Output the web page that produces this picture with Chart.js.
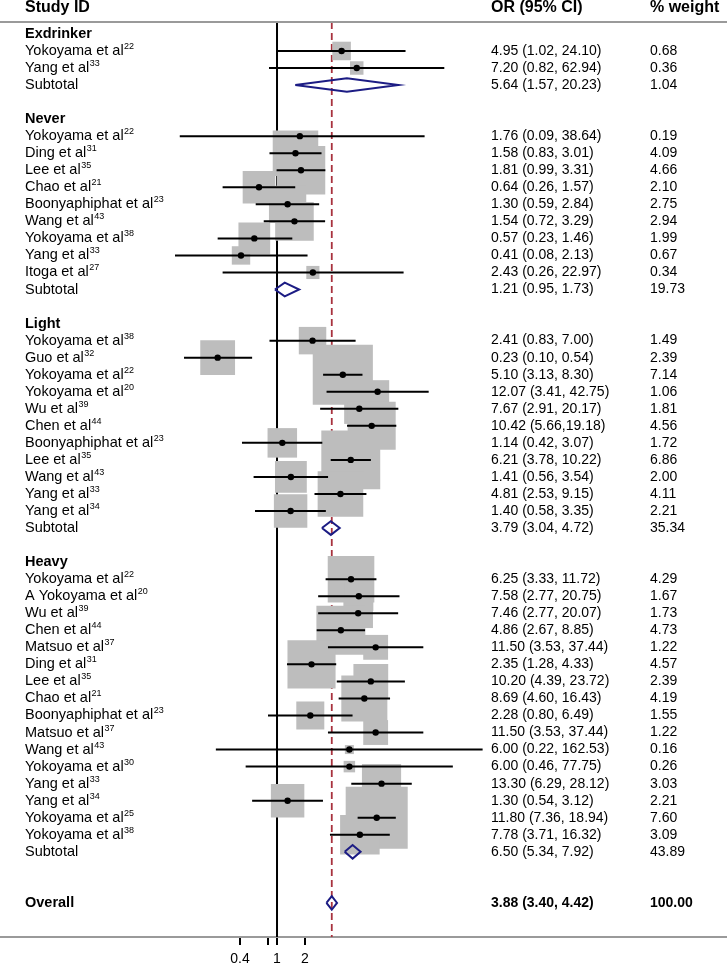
<!DOCTYPE html>
<html>
<head>
<meta charset="utf-8">
<script src="https://cdn.jsdelivr.net/npm/chart.js@4.4.1/dist/chart.umd.min.js"></script>
<style>
  html, body { margin: 0; padding: 0; background: #fff; }
  canvas { display: block; }
</style>
</head>
<body>
<canvas id="forestChart" width="727" height="966"></canvas>
<script>
// 飲酒状況別オッズ比のフォレストプロット

// サブグループ
const groupNames = ['Exdrinker', 'Never', 'Light', 'Heavy'];

// 各研究のグループ番号
const studyGroup = [
    0, 0,
    1, 1, 1, 1, 1, 1, 1, 1, 1,
    2, 2, 2, 2, 2, 2, 2, 2, 2, 2, 2,
    3, 3, 3, 3, 3, 3, 3, 3, 3, 3, 3, 3, 3, 3, 3, 3
];

// 著者名
const studyAuthors = [
    'Yokoyama et al', 'Yang et al',
    'Yokoyama et al', 'Ding et al', 'Lee et al', 'Chao et al', 'Boonyaphiphat et al',
    'Wang et al', 'Yokoyama et al', 'Yang et al', 'Itoga et al',
    'Yokoyama et al', 'Guo et al', 'Yokoyama et al', 'Yokoyama et al', 'Wu et al', 'Chen et al',
    'Boonyaphiphat et al', 'Lee et al', 'Wang et al', 'Yang et al', 'Yang et al',
    'Yokoyama et al', 'A Yokoyama et al', 'Wu et al', 'Chen et al', 'Matsuo et al', 'Ding et al',
    'Lee et al', 'Chao et al', 'Boonyaphiphat et al', 'Matsuo et al', 'Wang et al',
    'Yokoyama et al', 'Yang et al', 'Yang et al', 'Yokoyama et al', 'Yokoyama et al'
];

// 文献番号（上付き）
const studyRefs = [
    '22', '33',
    '22', '31', '35', '21', '23', '43', '38', '33', '27',
    '38', '32', '22', '20', '39', '44', '23', '35', '43', '33', '34',
    '22', '20', '39', '44', '37', '31', '35', '21', '23', '37', '43', '30', '33', '34', '25', '38'
];

// オッズ比と95%信頼区間
const orValues = [
    4.95, 7.20,
    1.76, 1.58, 1.81, 0.64, 1.30, 1.54, 0.57, 0.41, 2.43,
    2.41, 0.23, 5.10, 12.07, 7.67, 10.42, 1.14, 6.21, 1.41, 4.81, 1.40,
    6.25, 7.58, 7.46, 4.86, 11.50, 2.35, 10.20, 8.69, 2.28, 11.50, 6.00, 6.00, 13.30, 1.30, 11.80, 7.78
];
const ciLower = [
    1.02, 0.82,
    0.09, 0.83, 0.99, 0.26, 0.59, 0.72, 0.23, 0.08, 0.26,
    0.83, 0.10, 3.13, 3.41, 2.91, 5.66, 0.42, 3.78, 0.56, 2.53, 0.58,
    3.33, 2.77, 2.77, 2.67, 3.53, 1.28, 4.39, 4.60, 0.80, 3.53, 0.22, 0.46, 6.29, 0.54, 7.36, 3.71
];
const ciUpper = [
    24.10, 62.94,
    38.64, 3.01, 3.31, 1.57, 2.84, 3.29, 1.46, 2.13, 22.97,
    7.00, 0.54, 8.30, 42.75, 20.17, 19.18, 3.07, 10.22, 3.54, 9.15, 3.35,
    11.72, 20.75, 20.07, 8.85, 37.44, 4.33, 23.72, 16.43, 6.49, 37.44, 162.53, 77.75, 28.12, 3.12, 18.94, 16.32
];

// 重み（%）
const weights = [
    0.68, 0.36,
    0.19, 4.09, 4.66, 2.10, 2.75, 2.94, 1.99, 0.67, 0.34,
    1.49, 2.39, 7.14, 1.06, 1.81, 4.56, 1.72, 6.86, 2.00, 4.11, 2.21,
    4.29, 1.67, 1.73, 4.73, 1.22, 4.57, 2.39, 4.19, 1.55, 1.22, 0.16, 0.26, 3.03, 2.21, 7.60, 3.09
];

// 信頼区間の表記でカンマ後の空白がない研究
const compactCiStudies = [16];

// サブトータル
const subOr = [5.64, 1.21, 3.79, 6.50];
const subLower = [1.57, 0.95, 3.04, 5.34];
const subUpper = [20.23, 1.73, 4.72, 7.92];
const subWeight = [1.04, 19.73, 35.34, 43.89];

// 全体
const overallOr = 3.88;
const overallLower = 3.40;
const overallUpper = 4.42;
const overallWeight = 100.00;

// X軸の目盛
const axisTicks = [0.4, 0.8, 1, 2];
const axisLabels = ['0.4', '', '1', '2'];

// 表示設定
const FONT = '"Liberation Sans", Arial, sans-serif';
const LABEL_X = 25;
const CI_X = 491;
const WEIGHT_X = 650;
const BOX_SCALE = 22.5;
const DIAMOND_HALF = 0.4;
const X_MIN = 0.00105;
const X_MAX = 69000;

// 行番号の割り当て
const studyRow = [];
const subRow = [];
const groupRow = [];
let rowCursor = 0;
groupNames.forEach((name, gi) => {
    groupRow[gi] = rowCursor++;
    studyGroup.forEach((g, si) => {
        if (g === gi) studyRow[si] = rowCursor++;
    });
    subRow[gi] = rowCursor;
    rowCursor += 2;
});
const overallRow = rowCursor + 1;
const Y_MIN = -0.7;
const Y_MAX = overallRow + 2;

// 信頼区間の線（null で区切る）
const ciLineData = [];
orValues.forEach((v, i) => {
    ciLineData.push({ x: ciLower[i], y: studyRow[i] });
    ciLineData.push({ x: ciUpper[i], y: studyRow[i] });
    ciLineData.push({ x: null, y: null });
});

// ひし形（サブトータルと全体）
const diamondData = [];
function addDiamond(est, lo, hi, row) {
    diamondData.push({ x: lo, y: row });
    diamondData.push({ x: est, y: row - DIAMOND_HALF });
    diamondData.push({ x: hi, y: row });
    diamondData.push({ x: est, y: row + DIAMOND_HALF });
    diamondData.push({ x: lo, y: row });
    diamondData.push({ x: null, y: null });
}
subOr.forEach((v, gi) => addDiamond(v, subLower[gi], subUpper[gi], subRow[gi]));
addDiamond(overallOr, overallLower, overallUpper, overallRow);

const pointData = orValues.map((v, i) => ({ x: v, y: studyRow[i] }));

function fmt(v) {
    return v.toFixed(2);
}
function ciText(est, lo, hi, compact) {
    return fmt(est) + ' (' + fmt(lo) + (compact ? ',' : ', ') + fmt(hi) + ')';
}

// 文字列描画プラグイン
const forestTextPlugin = {
    id: 'forestText',
    afterDraw(chart) {
        const ctx = chart.ctx;
        const yScale = chart.scales.y;
        const area = chart.chartArea;
        ctx.save();

        // ヘッダー下の線
        ctx.strokeStyle = '#9a9a9a';
        ctx.lineWidth = 2;
        ctx.beginPath();
        ctx.moveTo(0, area.top);
        ctx.lineTo(chart.width, area.top);
        ctx.stroke();

        ctx.fillStyle = '#000';
        ctx.textBaseline = 'middle';
        ctx.textAlign = 'left';

        // ヘッダー
        ctx.font = 'bold 16px ' + FONT;
        ctx.fillText('Study ID', LABEL_X, 7.5);
        ctx.fillText('OR (95% CI)', CI_X, 7.5);
        ctx.fillText('% weight', WEIGHT_X, 7.5);

        // グループ名
        ctx.font = 'bold 14.5px ' + FONT;
        groupNames.forEach((name, gi) => {
            ctx.fillText(name, LABEL_X, yScale.getPixelForValue(groupRow[gi]));
        });

        // 各研究
        studyAuthors.forEach((name, i) => {
            const y = yScale.getPixelForValue(studyRow[i]);
            ctx.font = '14.5px ' + FONT;
            ctx.fillText(name, LABEL_X, y);
            const w = ctx.measureText(name).width;
            ctx.font = '14px ' + FONT;
            ctx.fillText(ciText(orValues[i], ciLower[i], ciUpper[i], compactCiStudies.includes(i)), CI_X, y);
            ctx.fillText(fmt(weights[i]), WEIGHT_X, y);
            ctx.font = '9px ' + FONT;
            ctx.fillText(studyRefs[i], LABEL_X + w + 0.5, y - 4.5);
        });

        // サブトータル
        subOr.forEach((v, gi) => {
            const y = yScale.getPixelForValue(subRow[gi]);
            ctx.font = '14.5px ' + FONT;
            ctx.fillText('Subtotal', LABEL_X, y);
            ctx.font = '14px ' + FONT;
            ctx.fillText(ciText(v, subLower[gi], subUpper[gi], false), CI_X, y);
            ctx.fillText(fmt(subWeight[gi]), WEIGHT_X, y);
        });

        // 全体
        const oy = yScale.getPixelForValue(overallRow);
        ctx.font = 'bold 14.5px ' + FONT;
        ctx.fillText('Overall', LABEL_X, oy);
        ctx.font = 'bold 14px ' + FONT;
        ctx.fillText(ciText(overallOr, overallLower, overallUpper, false), CI_X, oy);
        ctx.fillText(fmt(overallWeight), WEIGHT_X, oy);

        ctx.restore();
    }
};

const ctx = document.getElementById('forestChart').getContext('2d');
new Chart(ctx, {
    type: 'scatter',
    data: {
        datasets: [
            {
                // 点推定値
                data: pointData,
                pointRadius: 3.2,
                pointBackgroundColor: '#000',
                pointBorderWidth: 0,
                order: 0
            },
            {
                // 信頼区間
                data: ciLineData,
                showLine: true,
                spanGaps: false,
                borderColor: '#000',
                borderWidth: 2,
                pointRadius: 0,
                order: 1
            },
            {
                // ひし形
                data: diamondData,
                showLine: true,
                spanGaps: false,
                borderColor: '#1c1c84',
                borderWidth: 2,
                pointRadius: 0,
                order: 1
            },
            {
                // 重みに比例した四角
                data: pointData,
                pointStyle: 'rect',
                pointRadius: (c) => BOX_SCALE * Math.sqrt(weights[c.dataIndex]) / (2 * Math.SQRT1_2),
                pointBackgroundColor: '#bdbdbd',
                pointBorderWidth: 0,
                order: 2
            },
            {
                // 無効果線 OR=1
                data: [{ x: 1, y: Y_MIN }, { x: 1, y: Y_MAX }],
                showLine: true,
                borderColor: '#000',
                borderWidth: 2,
                pointRadius: 0,
                order: 3
            },
            {
                // 全体推定値の破線
                data: [{ x: overallOr, y: Y_MIN }, { x: overallOr, y: Y_MAX }],
                showLine: true,
                borderColor: '#a8323e',
                borderWidth: 1.8,
                borderDash: [7, 4],
                pointRadius: 0,
                order: 3
            }
        ]
    },
    options: {
        responsive: false,
        animation: false,
        layout: {
            autoPadding: false,
            padding: { top: 22, left: 0, right: 0, bottom: 0 }
        },
        plugins: {
            legend: { display: false },
            tooltip: { enabled: false }
        },
        scales: {
            x: {
                type: 'logarithmic',
                min: X_MIN,
                max: X_MAX,
                afterBuildTicks: (scale) => {
                    scale.ticks = axisTicks.map(v => ({ value: v }));
                },
                afterFit: (scale) => {
                    scale.height = 29;
                },
                ticks: {
                    autoSkip: false,
                    maxRotation: 0,
                    padding: 6,
                    color: '#000',
                    font: { family: FONT, size: 14 },
                    callback: (value, index) => axisLabels[index]
                },
                grid: {
                    drawOnChartArea: false,
                    drawTicks: true,
                    tickLength: 8,
                    color: '#000',
                    lineWidth: 2
                },
                border: {
                    display: true,
                    color: '#9a9a9a',
                    width: 2
                }
            },
            y: {
                type: 'linear',
                display: false,
                reverse: true,
                min: Y_MIN,
                max: Y_MAX
            }
        }
    },
    plugins: [forestTextPlugin]
});
</script>
</body>
</html>
